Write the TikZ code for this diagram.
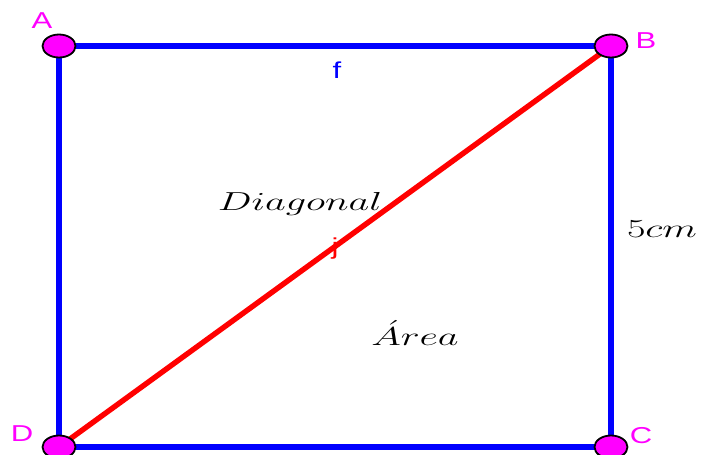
\RequirePackage{fix-cm}
\documentclass[tikz,border=0pt]{standalone}
\usepackage{fontspec}
\setsansfont{Liberation Sans}
\usetikzlibrary{shapes.geometric}
\definecolor{hongtim}{RGB}{255,0,255}
\definecolor{xanh}{RGB}{0,0,255}
\definecolor{do}{RGB}{255,0,0}
\newcommand{\anchoM}[1]{\scalebox{1.55}[1]{#1}}
\newcommand{\anchoS}[1]{\scalebox{1.35}[1]{#1}}
\begin{document}
\begin{tikzpicture}[x=1pt, y=-1pt,
	diem/.style={ellipse, draw=black, line width=1.8pt, fill=hongtim, minimum width=33pt, minimum height=23pt, inner sep=0pt},
	nhan/.style={inner sep=0pt, font=\sffamily\fontsize{23}{26}\selectfont},
	chu/.style={inner sep=0pt, anchor=base, font=\fontsize{26}{30}\selectfont}]
	\useasboundingbox (0,0) rectangle (702,455);
	% Các đỉnh của hình vuông
	\coordinate (pA) at (59,46);
	\coordinate (pB) at (611,46);
	\coordinate (pC) at (611,447);
	\coordinate (pD) at (59,447);
	
	% Vẽ các cạnh
	\draw[xanh, line width=5.4pt] (pA) -- (pB) -- (pC) -- (pD) -- cycle;
	
	% Vẽ đường chéo
	\draw[do, line width=5.4pt] (pD) -- (pB);
	
	% Vẽ các điểm
	\node[diem] (A) at (pA) {};
	\node[diem] (B) at (pB) {};
	\node[diem] (C) at (pC) {};
	\node[diem] (D) at (pD) {};
	
	% Gán nhãn các đỉnh
	\node[nhan, hongtim] (lA) at (42,21) {\anchoS{A}};
	\node[nhan, hongtim] (lB) at (646,40.5) {\anchoS{B}};
	\node[nhan, hongtim] (lC) at (641,436) {\anchoS{C}};
	\node[nhan, hongtim] (lD) at (22,434) {\anchoS{D}};
	
	% Tên cạnh và đường chéo
	\node[nhan, xanh] (lf) at (337,70) {\anchoS{f}};
	\node[nhan, do] (lj) at (335,249) {\anchoS{j}};
	
	% Các chữ chú thích
	\node[chu] (tDiag) at (300,210) {\anchoM{$Diagonal$}};
	\node[chu] (tLado) at (662,237) {\anchoM{$5cm$}};
	\node[chu] (tArea) at (415,345) {\anchoM{$\acute{A}rea$}};
\end{tikzpicture}
\end{document}
